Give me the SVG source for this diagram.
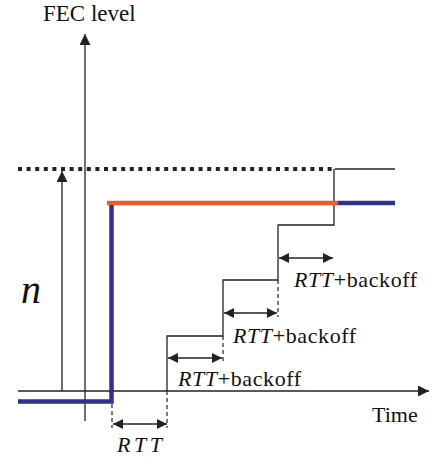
<svg xmlns="http://www.w3.org/2000/svg" width="433" height="461" viewBox="0 0 433 461">
<style>
.thin{stroke:#222;stroke-width:1.3;fill:none}
.dash{stroke:#222;stroke-width:1.2;fill:none;stroke-dasharray:4 3}
.lbl{letter-spacing:0.6px}
</style>
<defs>
<marker id="ah" viewBox="0 0 10 10" refX="10" refY="5" markerWidth="10" markerHeight="10" markerUnits="userSpaceOnUse" orient="auto-start-reverse">
<path d="M0,0 L10,5 L0,10 z" fill="#222"/>
</marker>
<marker id="ah2" viewBox="0 0 10 10" refX="10" refY="5" markerWidth="11" markerHeight="11" markerUnits="userSpaceOnUse" orient="auto-start-reverse">
<path d="M0,0 L10,5 L0,10 z" fill="#222"/>
</marker>
</defs>
<g id="connectors">
<line id="y-axis" class="thin" x1="85" y1="421" x2="85" y2="34" marker-end="url(#ah2)"/>
<line id="x-axis" class="thin" x1="18" y1="391" x2="429" y2="391" marker-end="url(#ah2)"/>
<line id="n-arrow" class="thin" x1="62" y1="391" x2="62" y2="171" marker-end="url(#ah2)"/>
<line id="n-level" x1="18" y1="169" x2="335" y2="169" stroke="#222" stroke-width="4" stroke-dasharray="4 4.6"/>
<line class="thin" x1="335" y1="169" x2="395" y2="169"/>
<polyline id="staircase" class="thin" points="167,391 167,336 223,336 223,280 278,280 278,225 334,225 334,169"/>
<line class="dash" x1="112" y1="404" x2="112" y2="428"/>
<line class="dash" x1="167" y1="391" x2="167" y2="428"/>
<line class="dash" x1="223" y1="336" x2="223" y2="362"/>
<line class="dash" x1="278" y1="280" x2="278" y2="317"/>
<line class="thin" x1="113" y1="424" x2="167" y2="424" marker-start="url(#ah)" marker-end="url(#ah)"/>
<line class="thin" x1="168" y1="358" x2="222" y2="358" marker-start="url(#ah)" marker-end="url(#ah)"/>
<line class="thin" x1="224" y1="313" x2="277" y2="313" marker-start="url(#ah)" marker-end="url(#ah)"/>
<line class="thin" x1="279" y1="258" x2="333" y2="258" marker-start="url(#ah)" marker-end="url(#ah)"/>
<line id="orange" x1="107" y1="203" x2="338" y2="203" stroke="#ef5a2c" stroke-width="4.5"/>
<line x1="338" y1="203" x2="395" y2="203" stroke="#2e3192" stroke-width="4.5"/>
<polyline id="blue" points="18,401.5 111.5,401.5 111.5,205" fill="none" stroke="#2e3192" stroke-width="4.5"/>
</g>
<g id="labels" font-family="Liberation Serif, Times New Roman, serif" font-size="22" fill="#111">
<text x="43" y="21" font-size="23">FEC level</text>
<text x="21" y="303" font-style="italic" font-size="40">n</text>
<text x="372" y="422">Time</text>
<text x="117" y="452" font-style="italic" letter-spacing="3.5">RTT</text>
<text class="lbl" x="178" y="386"><tspan font-style="italic">RTT</tspan>+backoff</text>
<text class="lbl" x="233" y="343"><tspan font-style="italic">RTT</tspan>+backoff</text>
<text class="lbl" x="294" y="287"><tspan font-style="italic">RTT</tspan>+backoff</text>
</g>
</svg>
